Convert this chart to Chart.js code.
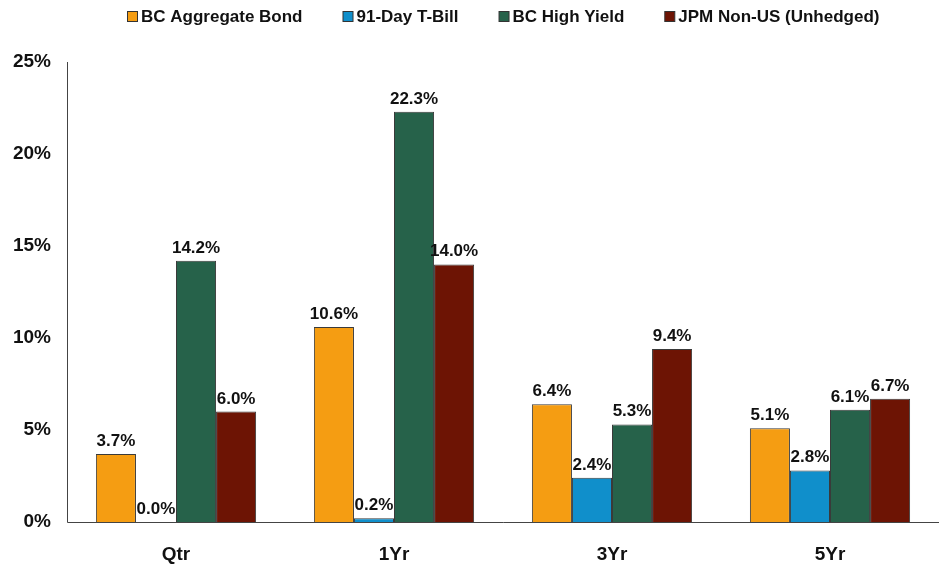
<!DOCTYPE html>
<html><head><meta charset="utf-8">
<script src="https://cdn.jsdelivr.net/npm/chart.js@4/dist/chart.umd.min.js"></script>
<style>html,body{margin:0;padding:0;background:#fff}#wrap{width:939px;height:565px}</style>
</head><body><div id="wrap"><canvas id="c" width="939" height="565"></canvas></div>
<script>
const categories = ["Qtr", "1Yr", "3Yr", "5Yr"];
const aggBond = [3.7, 10.6, 6.4, 5.1];
const tBill = [0.0, 0.2, 2.4, 2.8];
const highYield = [14.2, 22.3, 5.3, 6.1];
const nonUS = [6.0, 14.0, 9.4, 6.7];
const seriesNames = ["BC Aggregate Bond", "91-Day T-Bill", "BC High Yield", "JPM Non-US (Unhedged)"];
const colors = ["#F59D12", "#108FCB", "#26624A", "#6D1404"];
const yTicks = [0, 5, 10, 15, 20, 25];

const FONT = "Arial, 'Liberation Sans', sans-serif";
const labelPlugin = {
  id: 'valueLabels',
  afterDatasetsDraw(chart) {
    const ctx = chart.ctx;
    ctx.save();
    ctx.font = "bold 17px " + FONT;
    ctx.fillStyle = "#111";
    ctx.textAlign = "center";
    ctx.textBaseline = "alphabetic";
    chart.data.datasets.forEach((ds, i) => {
      const meta = chart.getDatasetMeta(i);
      meta.data.forEach((bar, j) => {
        ctx.fillText(ds.data[j].toFixed(1) + "%", bar.x, bar.y - 8);
      });
    });
    ctx.restore();
  }
};
const axisLines = {
  id: 'axisLines',
  afterDatasetsDraw(chart) {
    const {ctx, chartArea: a} = chart;
    ctx.save();
    ctx.strokeStyle = "#444";
    ctx.lineWidth = 1;
    ctx.beginPath();
    ctx.moveTo(a.left + 0.5, a.top);
    ctx.lineTo(a.left + 0.5, a.bottom + 0.5);
    ctx.lineTo(chart.width, a.bottom + 0.5);
    ctx.stroke();
    ctx.restore();
  }
};
const customLegend = {
  id: 'customLegend',
  afterDraw(chart) {
    const {ctx, chartArea: a} = chart;
    const box = 10, gapText = 4, gapItem = 40, cy = 16;
    ctx.save();
    ctx.font = "bold 17px " + FONT;
    const widths = chart.data.datasets.map(ds => ctx.measureText(ds.label).width);
    const total = widths.reduce((s, w) => s + box + gapText + w, 0) + gapItem * (widths.length - 1);
    let x = Math.round((a.left + a.right) / 2 - total / 2);
    chart.data.datasets.forEach((ds, i) => {
      ctx.fillStyle = ds.backgroundColor;
      ctx.fillRect(x + 0.5, cy - box / 2 + 0.5, box, box);
      ctx.strokeStyle = "#333";
      ctx.lineWidth = 1;
      ctx.strokeRect(x + 0.5, cy - box / 2 + 0.5, box, box);
      ctx.fillStyle = "#111";
      ctx.textBaseline = "middle";
      ctx.textAlign = "left";
      ctx.fillText(ds.label, x + box + gapText, cy + 1);
      x += box + gapText + widths[i] + gapItem;
    });
    ctx.restore();
  }
};

const datasets = [aggBond, tBill, highYield, nonUS].map((d, i) => ({
  label: seriesNames[i],
  data: d,
  backgroundColor: colors[i],
  borderColor: "#3a3a3a",
  borderWidth: 1,
  borderSkipped: 'bottom',
  categoryPercentage: 0.735,
  barPercentage: 1.0
}));

new Chart(document.getElementById('c'), {
  type: 'bar',
  data: { labels: categories, datasets },
  options: {
    responsive: false,
    animation: false,
    layout: { padding: { top: 62, right: -4, left: 0, bottom: 0 } },
    plugins: {
      tooltip: { enabled: false },
      legend: { display: false }
    },
    scales: {
      x: {
        grid: { display: false, drawTicks: false },
        border: { display: false },
        ticks: { font: { family: FONT, size: 19, weight: 'bold' }, color: "#111", padding: 21 },
        afterFit(s) { s.height = 43; }
      },
      y: {
        min: 0, max: 25,
        grid: { display: false, drawTicks: false },
        border: { display: false },
        afterBuildTicks(s) { s.ticks = yTicks.map(v => ({ value: v })); },
        ticks: {
          font: { family: FONT, size: 19, weight: 'bold' }, color: "#111", padding: 16,
          callback: v => v + "%"
        },
        afterFit(s) { s.width = 67; }
      }
    }
  },
  plugins: [labelPlugin, axisLines, customLegend]
});
</script></body></html>
